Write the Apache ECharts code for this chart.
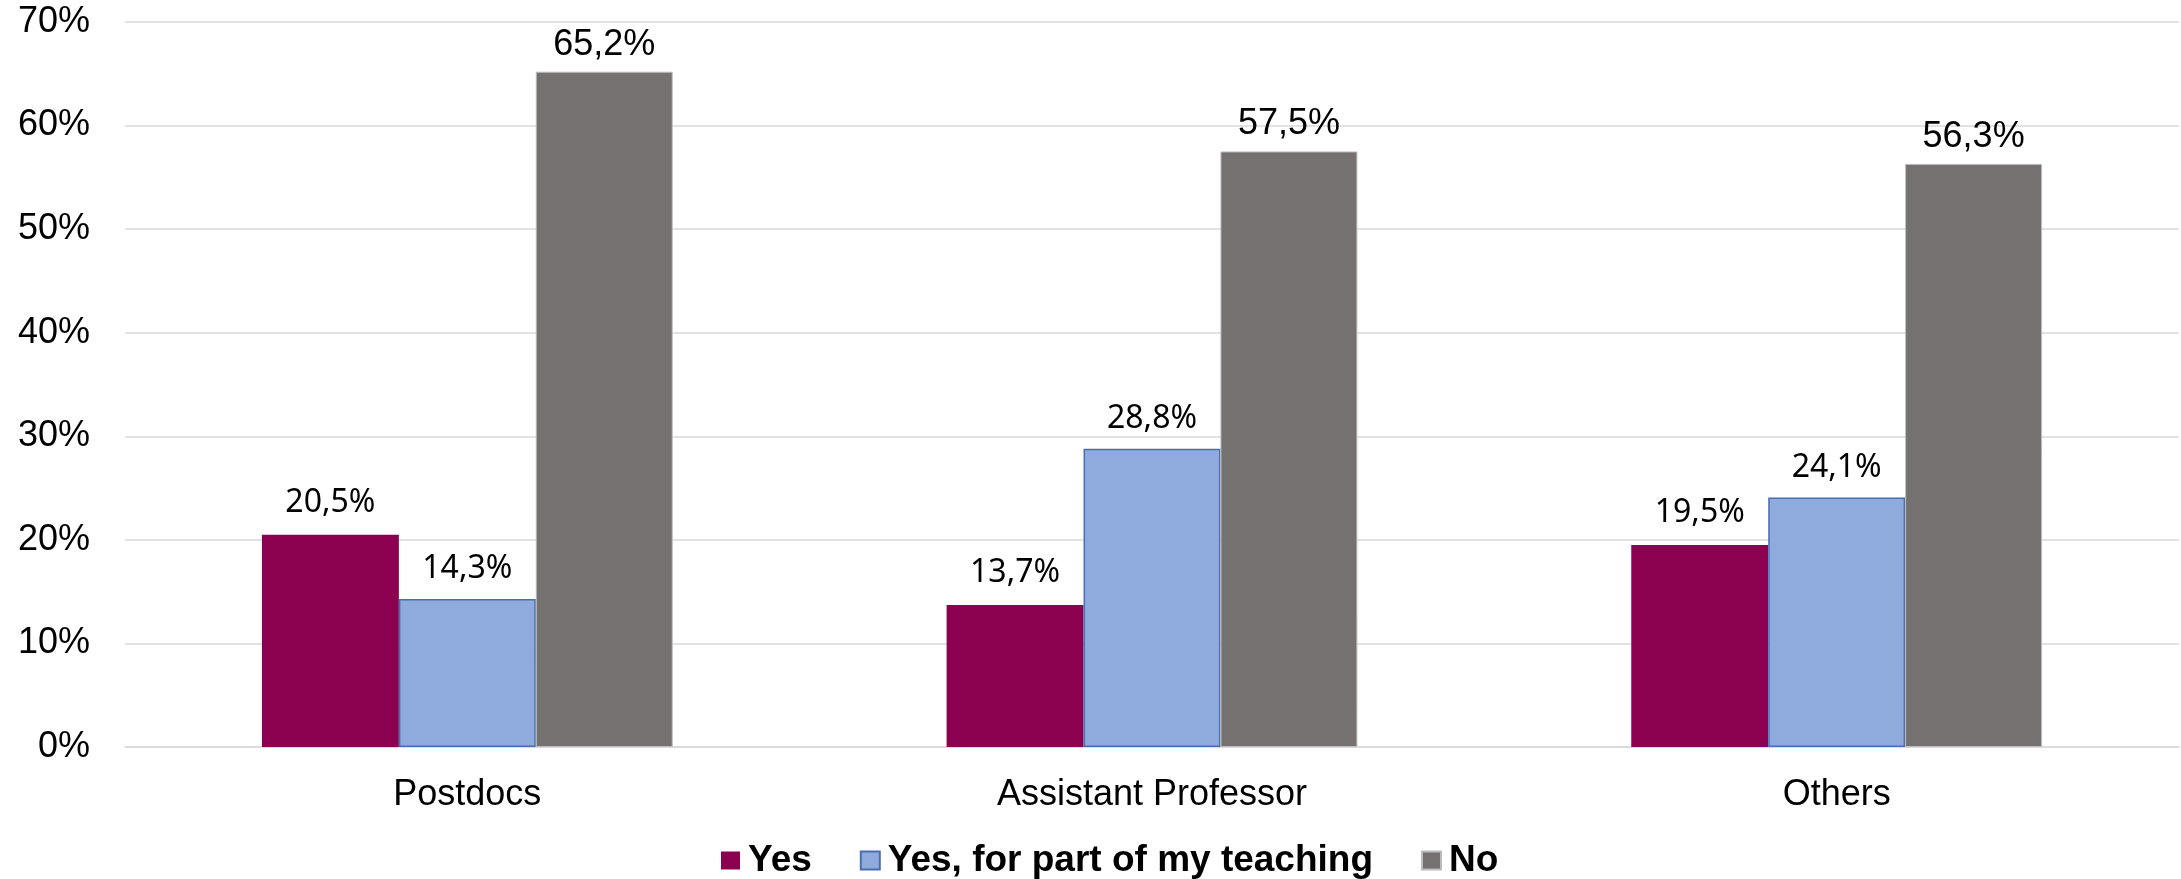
<!DOCTYPE html>
<html>
<head>
<meta charset="utf-8">
<script src="https://cdn.jsdelivr.net/npm/echarts@6/dist/echarts.min.js"></script>
<style>
html,body{margin:0;padding:0;background:#fff;}
#c{width:2181px;height:879px;}
</style>
</head>
<body>
<div id="c"></div>
<script>
const categories = ['Postdocs', 'Assistant Professor', 'Others'];
const seriesNames = ['Yes', 'Yes, for part of my teaching', 'No'];
const yesValues = [20.5, 13.7, 19.5];
const partValues = [14.3, 28.8, 24.1];
const noValues = [65.2, 57.5, 56.3];
const yTicks = [0, 10, 20, 30, 40, 50, 60, 70];

const fmt = p => p.value.toFixed(1).replace('.', ',') + '%';

const chart = echarts.init(document.getElementById('c'), null, {renderer: 'canvas'});
chart.setOption({
  animation: false,
  backgroundColor: '#ffffff',
  grid: {left: 125, right: 2, top: 22, bottom: 132, containLabel: false},
  legend: {
    data: seriesNames,
    left: 716,
    top: 837,
    icon: 'rect',
    itemWidth: 19,
    itemHeight: 18,
    itemGap: 48,
    textStyle: {fontFamily: 'Liberation Sans, Arial, sans-serif', fontSize: 37, fontWeight: 'bold', color: '#000', padding: [0, 0, 0, 3]}
  },
  xAxis: {
    type: 'category',
    data: categories,
    axisLine: {show: true, lineStyle: {color: '#d9d9d9', width: 1.5}},
    axisTick: {show: false},
    axisLabel: {fontFamily: 'Liberation Sans, Arial, sans-serif', fontSize: 36, color: '#000', margin: 30}
  },
  yAxis: {
    type: 'value',
    min: yTicks[0],
    max: yTicks[yTicks.length - 1],
    interval: 10,
    axisLine: {show: false},
    axisTick: {show: false},
    splitLine: {lineStyle: {color: '#d9d9d9', width: 1.5}},
    axisLabel: {fontFamily: 'Liberation Sans, Arial, sans-serif', fontSize: 36, color: '#000', margin: 35, formatter: v => v + '%'}
  },
  series: [
    {
      name: seriesNames[0], type: 'bar', data: yesValues,
      barGap: '0%', barCategoryGap: '40%',
      itemStyle: {color: '#8b004f'},
      label: {show: true, position: 'top', distance: 16, formatter: fmt, fontFamily: 'Noto Sans', fontSize: 32, color: '#000'}
    },
    {
      name: seriesNames[1], type: 'bar', data: partValues,
      barGap: '0%', barCategoryGap: '40%',
      itemStyle: {color: '#8faadc', borderColor: '#4a6eb0', borderWidth: 1.5},
      label: {show: true, position: 'top', distance: 14, formatter: fmt, fontFamily: 'Noto Sans', fontSize: 32, color: '#000'}
    },
    {
      name: seriesNames[2], type: 'bar', data: noValues,
      barGap: '0%', barCategoryGap: '40%',
      itemStyle: {color: '#767171', borderColor: '#bdbbbb', borderWidth: 1},
      label: {show: true, position: 'top', distance: 9, formatter: fmt, fontFamily: 'Liberation Sans, Arial, sans-serif', fontSize: 36, color: '#000'}
    }
  ]
});
</script>
</body>
</html>
